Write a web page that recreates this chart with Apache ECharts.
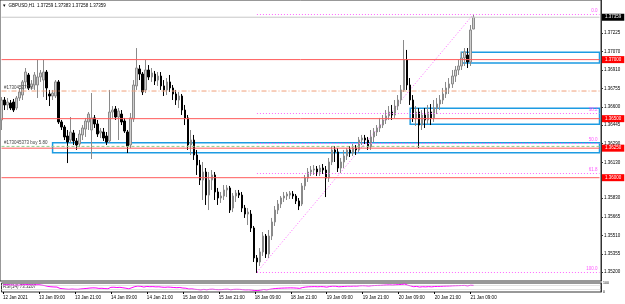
<!DOCTYPE html>
<html><head><meta charset="utf-8">
<script src="https://cdn.jsdelivr.net/npm/echarts@6/dist/echarts.min.js"></script>
<style>html,body{margin:0;padding:0;background:#fff}#c{width:625px;height:304px}</style>
</head><body><div id="c"></div>
<script>
// ---- data (GBPUSD H1) ----
const opens = [1.36489,1.36658,1.36616,1.36633,1.36641,1.36590,1.36675,1.36700,1.36811,1.36870,
1.36768,1.36785,1.36785,1.36853,1.36827,1.36895,1.36709,1.36692,1.36692,1.36811,
1.36472,1.36429,1.36353,1.36319,1.36379,1.36311,1.36285,1.36362,1.36412,1.36472,
1.36404,1.36506,1.36455,1.36379,1.36387,1.36353,1.36311,1.36556,1.36582,1.36514,
1.36539,1.36480,1.36387,1.36277,1.36497,1.36777,1.36921,1.36878,1.36743,1.36912,
1.36853,1.36878,1.36827,1.36861,1.36777,1.36743,1.36811,1.36760,1.36709,1.36658,
1.36692,1.36573,1.36506,1.36277,1.36319,1.36192,1.36107,1.35980,1.36048,1.35853,
1.35980,1.36023,1.35879,1.35828,1.35845,1.35896,1.35913,1.35743,1.35845,1.35870,
1.35853,1.35743,1.35692,1.35692,1.35574,1.35320,1.35286,1.35371,1.35506,1.35354,
1.35506,1.35625,1.35726,1.35777,1.35828,1.35845,1.35853,1.35862,1.35845,1.35803,
1.35777,1.35930,1.35997,1.36048,1.36065,1.36074,1.36048,1.36082,1.36065,1.35997,
1.36133,1.36235,1.36218,1.36082,1.36133,1.36184,1.36235,1.36209,1.36251,1.36235,
1.36319,1.36336,1.36319,1.36260,1.36345,1.36387,1.36421,1.36446,1.36489,1.36523,
1.36556,1.36531,1.36607,1.36658,1.36743,1.36997,1.36785,1.36658,1.36506,1.36556,
1.36446,1.36531,1.36489,1.36556,1.36506,1.36590,1.36624,1.36658,1.36709,1.36760,
1.36794,1.36861,1.36912,1.36946,1.37014,1.37039,1.36980,1.37259];
const closes = [1.36658,1.36616,1.36641,1.36590,1.36573,1.36675,1.36726,1.36811,1.36895,1.36760,
1.36794,1.36870,1.36853,1.36887,1.36895,1.36760,1.36692,1.36717,1.36811,1.36472,
1.36429,1.36345,1.36302,1.36387,1.36311,1.36277,1.36370,1.36421,1.36480,1.36539,
1.36506,1.36455,1.36370,1.36395,1.36336,1.36302,1.36556,1.36573,1.36514,1.36565,
1.36472,1.36395,1.36268,1.36506,1.36785,1.36929,1.36878,1.36726,1.36912,1.36853,
1.36887,1.36819,1.36861,1.36777,1.36743,1.36811,1.36760,1.36709,1.36658,1.36692,
1.36573,1.36506,1.36277,1.36319,1.36192,1.36107,1.35980,1.36048,1.35853,1.35980,
1.36023,1.35879,1.35828,1.35845,1.35896,1.35913,1.35726,1.35845,1.35870,1.35853,
1.35743,1.35692,1.35709,1.35574,1.35320,1.35286,1.35371,1.35506,1.35354,1.35506,
1.35625,1.35726,1.35777,1.35828,1.35845,1.35862,1.35870,1.35845,1.35803,1.35760,
1.35930,1.35997,1.36048,1.36065,1.36074,1.36048,1.36082,1.36065,1.35997,1.36133,
1.36235,1.36218,1.36082,1.36133,1.36184,1.36235,1.36209,1.36251,1.36235,1.36319,
1.36336,1.36319,1.36260,1.36345,1.36387,1.36421,1.36446,1.36489,1.36523,1.36556,
1.36531,1.36607,1.36658,1.36743,1.36997,1.36785,1.36658,1.36506,1.36556,1.36446,
1.36531,1.36489,1.36556,1.36506,1.36590,1.36624,1.36658,1.36709,1.36760,1.36794,
1.36861,1.36912,1.36946,1.37014,1.37065,1.36980,1.37251,1.37359];
const lows = [1.36404,1.36573,1.36573,1.36573,1.36556,1.36573,1.36650,1.36658,1.36760,1.36743,
1.36743,1.36743,1.36675,1.36811,1.36683,1.36658,1.36607,1.36658,1.36675,1.36455,
1.36404,1.36319,1.36124,1.36294,1.36277,1.36235,1.36260,1.36319,1.36345,1.36404,
1.36158,1.36421,1.36345,1.36336,1.36311,1.36277,1.36294,1.36506,1.36489,1.36319,
1.36446,1.36379,1.36209,1.36251,1.36472,1.36743,1.36827,1.36700,1.36717,1.36827,
1.36811,1.36785,1.36777,1.36743,1.36692,1.36700,1.36726,1.36658,1.36616,1.36590,
1.36531,1.36446,1.36235,1.36192,1.36150,1.36023,1.35938,1.35811,1.35769,1.35726,
1.35896,1.35811,1.35769,1.35786,1.35811,1.35836,1.35701,1.35709,1.35794,1.35828,
1.35709,1.35659,1.35599,1.35540,1.35286,1.35193,1.35252,1.35337,1.35320,1.35320,
1.35472,1.35591,1.35692,1.35743,1.35794,1.35811,1.35820,1.35820,1.35777,1.35726,
1.35760,1.35896,1.35964,1.36014,1.36023,1.36014,1.36014,1.36031,1.35836,1.35964,
1.36107,1.36133,1.36048,1.36040,1.36082,1.36150,1.36175,1.36184,1.36192,1.36218,
1.36277,1.36285,1.36235,1.36235,1.36302,1.36353,1.36387,1.36421,1.36455,1.36489,
1.36489,1.36506,1.36573,1.36624,1.36726,1.36743,1.36616,1.36472,1.36438,1.36251,
1.36404,1.36421,1.36455,1.36446,1.36472,1.36539,1.36573,1.36624,1.36675,1.36709,
1.36760,1.36811,1.36870,1.36912,1.36946,1.36929,1.36946,1.37258];
const highs = [1.36683,1.36683,1.36675,1.36658,1.36667,1.36692,1.36760,1.36827,1.36929,1.36887,
1.36827,1.36895,1.36997,1.36912,1.36997,1.36912,1.36743,1.36743,1.36827,1.36827,
1.36489,1.36446,1.36404,1.36514,1.36404,1.36336,1.36404,1.36446,1.36506,1.36556,
1.36717,1.36531,1.36489,1.36421,1.36421,1.36387,1.36743,1.36607,1.36607,1.36590,
1.36573,1.36506,1.36404,1.36548,1.36827,1.37098,1.36954,1.36895,1.36997,1.36954,
1.36929,1.36904,1.36895,1.36895,1.36827,1.36844,1.36870,1.36785,1.36743,1.36726,
1.36709,1.36616,1.36531,1.36404,1.36362,1.36235,1.36150,1.36133,1.36082,1.36048,
1.36065,1.36048,1.35913,1.35879,1.35938,1.35938,1.35930,1.35870,1.35896,1.35896,
1.35879,1.35769,1.35743,1.35726,1.35591,1.35345,1.35404,1.35540,1.35523,1.35557,
1.35659,1.35760,1.35811,1.35845,1.35879,1.35879,1.35887,1.35887,1.35862,1.35828,
1.35955,1.36023,1.36082,1.36099,1.36107,1.36099,1.36107,1.36116,1.36099,1.36167,
1.36268,1.36268,1.36251,1.36167,1.36235,1.36251,1.36268,1.36285,1.36277,1.36345,
1.36362,1.36362,1.36345,1.36404,1.36421,1.36446,1.36506,1.36531,1.36573,1.36607,
1.36616,1.36658,1.36700,1.36785,1.37166,1.37082,1.36844,1.36700,1.36607,1.36590,
1.36573,1.36590,1.36616,1.36624,1.36658,1.36675,1.36700,1.36760,1.36811,1.36844,
1.36912,1.36946,1.36997,1.37065,1.37098,1.37098,1.37293,1.37383];
const rsi = [78,80,79,77,75,76,78,80,82,79,78,80,81,
76,70,62,58,56,
55,40,36,32,30,33,31,30,34,37,40,44,
46,45,40,41,38,36,52,
53,50,52,47,42,35,
48,60,66,63,55,
62,59,60,57,58,54,52,55,53,50,
48,50,44,42,33,35,30,27,24,
29,25,30,31,27,
26,27,30,31,25,29,30,29,26,24,25,22,
17,16,22,28,24,30,
35,39,41,43,44,45,
46,45,43,40,50,
55,58,59,60,58,60,
59,54,61,65,64,58,60,62,65,64,
66,65,69,70,69,66,70,72,73,
74,76,78,79,77,80,82,
84,89,76,
68,59,62,55,
59,57,60,57,61,
62,63,65,66,67,69,70,71,72,73,
68,75,73.3207];
const days = ['12 Jan','13 Jan','14 Jan','15 Jan','18 Jan','19 Jan','20 Jan','21 Jan'];
const firstHour = 21, lastHour = 10;
const timeTickBars = [0,12,24,36,48,60,72,84,96,108,120,132,144,156];
const timeTickLabels = ['12 Jan 2021','13 Jan 09:00','13 Jan 21:00','14 Jan 09:00','14 Jan 21:00','15 Jan 09:00','15 Jan 21:00','18 Jan 09:00','18 Jan 21:00','19 Jan 09:00','19 Jan 21:00','20 Jan 09:00','20 Jan 21:00','21 Jan 09:00'];
const priceTicks = [1.37225,1.37070,1.36910,1.36755,1.36600,1.36445,1.36290,1.36130,1.35830,1.35665,1.35510,1.35355,1.35200];
const redLevels = [1.37000,1.36500,1.36250,1.36000];
const slLevel = 1.36734, slText = '#173045373 sl';
const entryLevel = 1.36265, entryText = '#173045373 buy 5.80';
const fibLow = 1.35200, fibHigh = 1.37383, fibLowBar = 85, fibHighBar = 157;
const fibPcts = [0, 38.2, 50, 61.8, 100];
const boxes = [ // [start bar, top price, bottom price]
  [17, 1.36296, 1.36212],
  [136, 1.36588, 1.36452],
  [153, 1.37062, 1.36971]
];
const rsiLevels = [70, 30];
const slotCount = 200;
const yMin = 1.35125, yMax = 1.37505;

// ---- build ----
const cats = [];
days.forEach((d,k)=>{
  const h0 = k===0?firstHour:0, h1 = k===days.length-1?lastHour:23;
  for(let h=h0;h<=h1;h++) cats.push(d+' '+String(h).padStart(2,'0')+':00');
});
while(cats.length<slotCount) cats.push('_'+cats.length);
const candles = opens.map((o,i)=>[o, closes[i], lows[i], highs[i]]);
const tickMap = {}; timeTickBars.forEach((b,k)=>tickMap[b]=timeTickLabels[k]);
const last = opens.length-1;
const FONT = 'Liberation Sans', FS = 4.5;
const lastBar = slotCount-1;
const NOLINE = {show:false,lineStyle:{color:'rgba(0,0,0,0)'}};

// horizontal level: drawn as a plain line series across all slots; label via a transparent markLine
function levelSeries(v, color, type, label){
  return {type:'line',xAxisIndex:0,yAxisIndex:0,z:4,silent:true,showSymbol:false,symbol:'none',
    data:[[0,v],[lastBar,v]],lineStyle:{color:color,type:type,width:1},
    markLine:{silent:true,precision:5,symbol:['none','none'],
      data:[{yAxis:v,lineStyle:{color:'rgba(255,255,255,0)',width:1},label:label}]}};
}
const redLabel = v=>({show:true,position:'end',formatter:v.toFixed(5),backgroundColor:'#ff0000',color:'#ffffff',
    fontSize:FS,fontFamily:FONT,padding:[1,3,1,3],distance:1});
const levelSeriesList = [];
redLevels.forEach(v=>levelSeriesList.push(levelSeries(v,'#ff5a5a','solid',redLabel(v))));
levelSeriesList.push(levelSeries(slLevel,'#f0a07a',[5,2,1,2],
  {show:true,position:'insideStartTop',formatter:slText,color:'#444444',fontSize:FS,fontFamily:FONT,distance:[4,1]}));
levelSeriesList.push(levelSeries(entryLevel,'#8fd08f',[3,2],
  {show:true,position:'insideStartTop',formatter:entryText,color:'#444444',fontSize:FS,fontFamily:FONT,distance:[4,1]}));
levelSeriesList.push(levelSeries(closes[last],'#c8c8c8','solid',
  {show:true,position:'end',formatter:closes[last].toFixed(5),backgroundColor:'#000000',color:'#ffffff',
    fontSize:FS,fontFamily:FONT,padding:[1,3,1,3],distance:1}));

const fibLines = fibPcts.map(p=>{
  const v = fibHigh - p/100*(fibHigh-fibLow);
  return [{coord:[fibLowBar, v], lineStyle:{color:'#ff66ff',type:[1,2],width:1},
    label:{show:true,position:'insideEndTop',formatter:p.toFixed(1),
    color:'#ff55ff',fontSize:FS,fontFamily:FONT,distance:[2,1]}},{coord:[lastBar, v]}];
});

const boxAreas = boxes.map(b=>[{coord:[b[0], b[1]]},{coord:[lastBar, b[2]]}]);

const chart = echarts.init(document.getElementById('c'));
chart.setOption({
  animation:false,
  backgroundColor:'#ffffff',
  textStyle:{fontFamily:FONT},
  grid:[
    {left:-1,top:0,width:602,height:281,show:true,borderColor:'#333',borderWidth:1,backgroundColor:'transparent'},
    {left:-1,top:283,width:602,height:9,show:true,borderColor:'#333',borderWidth:1,backgroundColor:'transparent'}
  ],
  xAxis:[
    {type:'category',gridIndex:0,data:cats,boundaryGap:true,axisLine:{show:false,onZero:false},axisTick:{show:false},axisLabel:{show:false},splitLine:NOLINE,splitArea:{show:false}},
    {type:'category',gridIndex:1,data:cats,boundaryGap:true,
      axisLine:{show:false,onZero:false},
      axisTick:{show:true,interval:(i)=>tickMap[i]!==undefined,length:2,lineStyle:{color:'#000'},alignWithLabel:true},
      axisLabel:{show:true,interval:(i)=>tickMap[i]!==undefined,formatter:(v,i)=>tickMap[i]||'',
        fontSize:FS,fontFamily:FONT,color:'#000',align:'left',margin:3},
      splitLine:NOLINE,splitArea:{show:false}}
  ],
  yAxis:[
    {type:'value',gridIndex:0,position:'right',min:yMin,max:yMax,
      axisLine:{show:true,onZero:false,lineStyle:{color:'#333'}},
      axisTick:{show:true,length:2,customValues:priceTicks,lineStyle:{color:'#333'}},
      axisLabel:{show:true,customValues:priceTicks,formatter:(v)=>v.toFixed(5),fontSize:FS,fontFamily:FONT,color:'#000',margin:3},
      splitLine:NOLINE,minorSplitLine:{show:false},splitArea:{show:false}},
    {type:'value',gridIndex:1,position:'right',min:0,max:100,
      axisLine:{show:true,onZero:false,lineStyle:{color:'#333'}},
      axisTick:{show:false},
      axisLabel:{show:true,customValues:[100,0],fontSize:3.5,fontFamily:FONT,color:'#000',margin:2},
      splitLine:NOLINE,splitArea:{show:false}}
  ],
  graphic:[
    {type:'text',left:3,top:3,style:{text:'\u25BE  GBPUSD,H1  '+opens[last].toFixed(5)+' '+highs[last].toFixed(5)+' '+lows[last].toFixed(5)+' '+closes[last].toFixed(5),
      fontSize:FS,fontFamily:FONT,fill:'#000'}},
    {type:'text',left:3,top:284,style:{text:'RSI(14) '+rsi[rsi.length-1].toFixed(4),fontSize:FS,fontFamily:FONT,fill:'#333'}}
  ],
  series:levelSeriesList.concat([
    {type:'line',xAxisIndex:0,yAxisIndex:0,data:[[fibLowBar,fibLow],[fibHighBar,fibHigh]],
      showSymbol:false,lineStyle:{color:'#ff66ff',type:[1,2],width:1},z:1,
      markLine:{silent:true,precision:5,symbol:['none','none'],data:fibLines},
      markArea:{silent:true,precision:5,itemStyle:{color:'rgba(0,0,0,0)',borderColor:'#1d9be2',borderWidth:1.5},data:boxAreas}},
    {type:'candlestick',xAxisIndex:0,yAxisIndex:0,data:candles,barWidth:2,z:3,
      itemStyle:{color:'#cfcfcf',color0:'#000000',borderColor:'#8a8a8a',borderColor0:'#000000',borderWidth:1}},
    {type:'line',xAxisIndex:1,yAxisIndex:1,data:rsi,showSymbol:false,
      lineStyle:{color:'#ff00ff',width:1},
      markLine:{silent:true,symbol:['none','none'],label:{show:false},
        lineStyle:{color:'#c8c8c8',type:[1,1],width:1},data:rsiLevels.map(v=>({yAxis:v}))}}
  ])
});
</script>
</body></html>
